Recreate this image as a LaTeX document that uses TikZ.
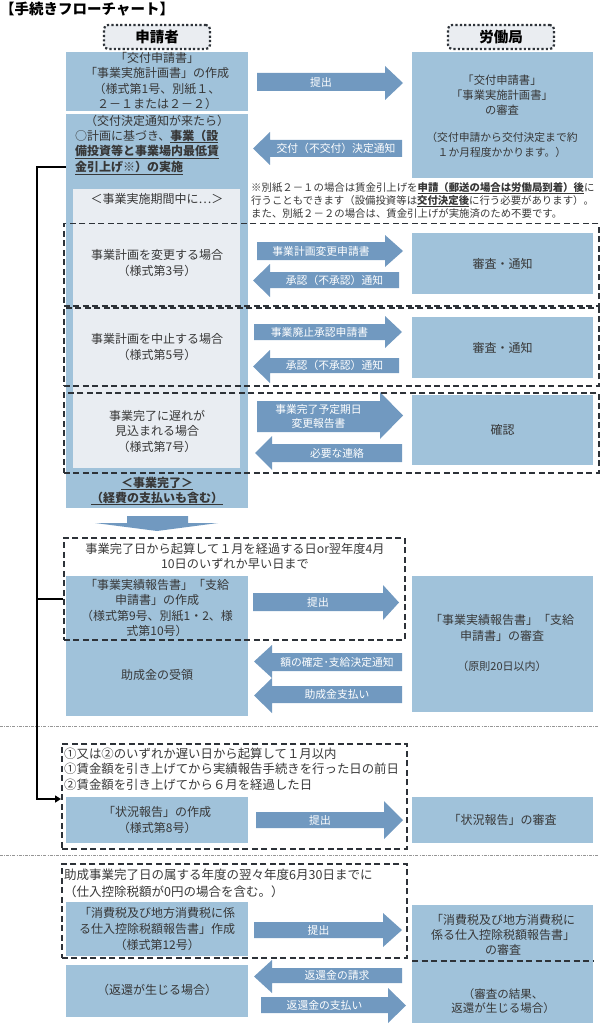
\documentclass[tikz,border=0pt]{standalone}
\usepackage{fontspec}
\setmainfont{Noto Sans CJK JP}
\usetikzlibrary{arrows.meta}
\definecolor{boxblue}{RGB}{160,194,218}
\definecolor{arrblue}{RGB}{113,153,192}
\definecolor{innergray}{RGB}{233,237,242}
\definecolor{txt}{RGB}{55,55,55}
\definecolor{dashc}{RGB}{45,50,56}
\definecolor{sepc}{RGB}{150,150,150}
\definecolor{lblfill}{RGB}{234,237,241}
\newcommand{\FSz}[2]{\fontsize{#1}{#2}\selectfont}
% right block arrow: name, xL, xHead, xTip, yBodyTop, yBodyBot, yHeadTop, yHeadBot, text
\newcommand{\RightBlk}[9]{%
  \fill[arrblue] (#2,#5) -- (#3,#5) -- (#3,#7) -- (#4,{(#7+#8)/2}) -- (#3,#8) -- (#3,#6) -- (#2,#6) -- cycle;
  \node[arrtx] (#1) at ({(#2+#3)/2},{(#5+#6)/2}) {#9};}
% left block arrow: name, xTip, xHead, xR, yBodyTop, yBodyBot, yHeadTop, yHeadBot, text
\newcommand{\LeftBlk}[9]{%
  \fill[arrblue] (#2,{(#7+#8)/2}) -- (#3,#7) -- (#3,#5) -- (#4,#5) -- (#4,#6) -- (#3,#6) -- (#3,#8) -- cycle;
  \node[arrtx] (#1) at ({(#3+#4)/2},{(#5+#6)/2}) {#9};}
\begin{document}
\begin{tikzpicture}[x=1pt,y=-1pt,
  bbox/.style={fill=boxblue, inner sep=0pt, anchor=north west},
  ibox/.style={fill=innergray, inner sep=0pt, anchor=north west},
  dbox/.style={draw=dashc, line width=1.5pt, dash pattern=on 6pt off 3.5pt, inner sep=0pt, anchor=north west},
  lbl/.style={draw=dashc, line width=2.2pt, dash pattern=on 2.2pt off 2.2pt, rounded corners=4pt, fill=lblfill, minimum width=106pt, minimum height=24pt, inner sep=0pt, font=\bfseries\FSz{14.5}{16}, text=black},
  tx/.style={text=txt, align=center, inner sep=0pt, font=\FSz{12}{15.5}},
  arrtx/.style={text=white, align=center, inner sep=0pt, font=\FSz{10.8}{14}},
  seprule/.style={draw=sepc, line width=0.7pt, dash pattern=on 3pt off 1.2pt on 0.8pt off 1.2pt},
  conn/.style={line width=2.5pt, draw=black}]
\useasboundingbox (0,0) rectangle (599,1024);

% title and lane labels
\node[anchor=west, inner sep=0pt, font=\bfseries\FSz{14.5}{16}, text=black] (title) at (0,9) {【手続きフローチャート】};
\node[lbl] (appl) at (157,37) {申請者};
\node[lbl] (bur) at (501,37) {労働局};

% filled boxes
\node[bbox, minimum width=182pt, minimum height=59pt] (b1) at (66,52) {};
\node[bbox, minimum width=182pt, minimum height=394pt] (b2) at (66,114) {};
\node[ibox, minimum width=167pt, minimum height=279pt] (inner) at (73,189) {};
\node[bbox, minimum width=181pt, minimum height=126pt] (r1) at (412,52) {};
\node[bbox, minimum width=181pt, minimum height=61pt] (r2) at (412,233) {};
\node[bbox, minimum width=181pt, minimum height=61pt] (r3) at (412,317) {};
\node[bbox, minimum width=181pt, minimum height=70pt] (r4) at (412,395) {};
\node[bbox, minimum width=182pt, minimum height=140pt] (b4) at (66,576) {};
\node[bbox, minimum width=181pt, minimum height=136pt] (r5) at (412,576) {};
\node[bbox, minimum width=182pt, minimum height=46pt] (b5) at (66,797) {};
\node[bbox, minimum width=181pt, minimum height=46pt] (r6) at (412,797) {};
\node[bbox, minimum width=182pt, minimum height=54pt] (b6) at (66,902) {};
\node[bbox, minimum width=182pt, minimum height=52pt] (b7) at (66,965) {};
\node[bbox, minimum width=181pt, minimum height=118pt] (r7) at (412,905) {};
\draw[dashc, line width=1.5pt, dash pattern=on 6pt off 3.5pt] (412,961) -- (593,961);

% down arrow after completion
\fill[arrblue] (127,516) -- (188,516) -- (188,523) -- (218,523) -- (157,531) -- (95,523) -- (127,523) -- cycle;

% block arrows
\RightBlk{a1}{257}{385}{403}{73}{91}{66}{100}{提出}
\LeftBlk{a2}{253}{270}{402}{140}{157}{132}{165}{交付（不交付）決定通知}
\RightBlk{a3}{257}{385}{403}{242}{260}{235}{267}{事業計画変更申請書}
\LeftBlk{a4}{253}{270}{399}{272}{288}{264}{297}{承認（不承認）通知}
\RightBlk{a5}{254}{385}{402}{324}{340}{316}{348}{事業廃止承認申請書}
\LeftBlk{a6}{253}{270}{399}{358}{373}{350}{383}{承認（不承認）通知}
\RightBlk{a7}{257}{380}{403}{401}{432}{392}{439}{事業完了予定期日\\変更報告書}
\LeftBlk{a8}{255}{272}{402}{444}{462}{436}{470}{必要な連絡}
\RightBlk{a9}{253}{383}{399}{593}{611}{585}{620}{提出}
\LeftBlk{a10}{254}{272}{402}{653}{671}{645}{678}{額の確定･支給決定通知}
\LeftBlk{a11}{254}{272}{402}{686}{703}{678}{713}{助成金支払い}
\RightBlk{a12}{256}{384}{403}{812}{828}{801}{839}{提出}
\RightBlk{a13}{254}{383}{402}{922}{938}{913}{947}{提出}
\LeftBlk{a14}{254}{272}{402}{968}{983}{960}{993}{返還金の請求}
\RightBlk{a15}{261}{388}{406}{997}{1013}{988}{1023}{返還金の支払い}

% dashed frames
\node[dbox, minimum width=535pt, minimum height=82pt] (d1) at (63,223) {};
\node[dbox, minimum width=535pt, minimum height=78pt] (d2) at (63,307) {};
\node[dbox, minimum width=535pt, minimum height=80pt] (d3) at (63,392) {};
\node[dbox, minimum width=341pt, minimum height=102pt] (d4) at (63,537) {};
\node[dbox, minimum width=345pt, minimum height=105pt] (d5) at (61,743) {};
\node[dbox, minimum width=345pt, minimum height=94pt] (d6) at (61,863) {};

% separators
\draw[seprule] (0,726) -- (599,726);
\draw[seprule] (0,855) -- (599,855);

% connector
\coordinate (cTop) at (37,167);
\coordinate (cMid) at (37,599);
\coordinate (cBot) at (37,799);
\draw[conn, -{Triangle[length=6pt,width=7pt]}] (b2.west |- cTop) -- (cTop) -- (cBot) -- (d5.west |- cBot);
\draw[conn] (cMid) -- (d4.west |- cMid);

% texts: top section
\node[tx] (b1t) at (157,81) {「交付申請書」\\「事業実施計画書」の作成\\（様式第1号、別紙１、\\２－１または２－２）};
\node[tx] (b2a) at (157,121) {（交付決定通知が来たら）};
\node[tx, align=left, anchor=west] (b2b) at (75,152) {○計画に基づき、\underline{\textbf{事業（設}}\\\underline{\textbf{備投資等と事業場内最低賃}}\\\underline{\textbf{金引上げ※）の実施}}};
\node[tx, font=\FSz{11.3}{15}] (r1a) at (502,95) {「交付申請書」\\「事業実施計画書」\\の審査};
\node[tx, font=\FSz{10.8}{15}] (r1b) at (502,145) {（交付申請から交付決定まで約\\１か月程度かかります。）};
\node[tx, align=left, anchor=north west, font=\FSz{10.4}{13}] (note) at (251,182) {※別紙２－１の場合は賃金引上げを\underline{\textbf{申請（郵送の場合は労働局到着）後}}に\\行うこともできます（設備投資等は\underline{\textbf{交付決定後}}に行う必要があります）。\\また、別紙２－２の場合は、賃金引上げが実施済のため不要です。};

% texts: implementation period
\node[tx] (b2c) at (157,199) {＜事業実施期間中に…＞};
\node[tx] (s1t) at (157,263) {事業計画を変更する場合\\（様式第3号）};
\node[tx] (s2t) at (157,347) {事業計画を中止する場合\\（様式第5号）};
\node[tx] (s3t) at (157,431) {事業完了に遅れが\\見込まれる場合\\（様式第7号）};
\node[tx] (r2t) at (r2) {審査・通知};
\node[tx] (r3t) at (r3) {審査・通知};
\node[tx] (r4t) at (r4) {確認};
\node[tx, font=\bfseries\FSz{12}{15}] (done) at (157,491) {\underline{＜事業完了＞}\\\underline{（経費の支払いも含む）}};

% texts: results report
\node[tx, font=\FSz{12.2}{15}] (d4t) at (235,556) {事業完了日から起算して１月を経過する日or翌年度4月\\10日のいずれか早い日まで};
\node[tx] (b4a) at (157,608) {「事業実績報告書」「支給\\申請書」の作成\\（様式第9号、別紙1・2、様\\式第10号）};
\node[tx] (b4b) at (157,675) {助成金の受領};
\node[tx] (r5a) at (502,628) {「事業実績報告書」「支給\\申請書」の審査};
\node[tx, font=\FSz{11}{14}] (r5b) at (502,666) {（原則20日以内）};

% texts: status report
\node[tx, align=left, anchor=west, font=\FSz{12.4}{15.5}] (d5t) at (64,769) {①又は②のいずれか遅い日から起算して１月以内\\①賃金額を引き上げてから実績報告手続きを行った日の前日\\②賃金額を引き上げてから６月を経過した日};
\node[tx] (b5t) at (b5) {「状況報告」の作成\\（様式第8号）};
\node[tx] (r6t) at (r6) {「状況報告」の審査};

% texts: tax report
\node[tx, align=left, anchor=west, font=\FSz{12.5}{17}] (d6t) at (64,883) {助成事業完了日の属する年度の翌々年度6月30日までに\\（仕入控除税額が0円の場合を含む。）};
\node[tx, font=\FSz{12}{16}] (b6t) at (b6) {「消費税及び地方消費税に係\\る仕入控除税額報告書」作成\\（様式第12号）};
\node[tx] (b7t) at (157,990) {（返還が生じる場合）};
\node[tx, font=\FSz{12}{15}] (r7a) at (503,935) {「消費税及び地方消費税に\\係る仕入控除税額報告書」\\の審査};
\node[tx, font=\FSz{11.5}{14.5}] (r7b) at (503,1001) {（審査の結果、\\返還が生じる場合）};
\end{tikzpicture}
\end{document}
